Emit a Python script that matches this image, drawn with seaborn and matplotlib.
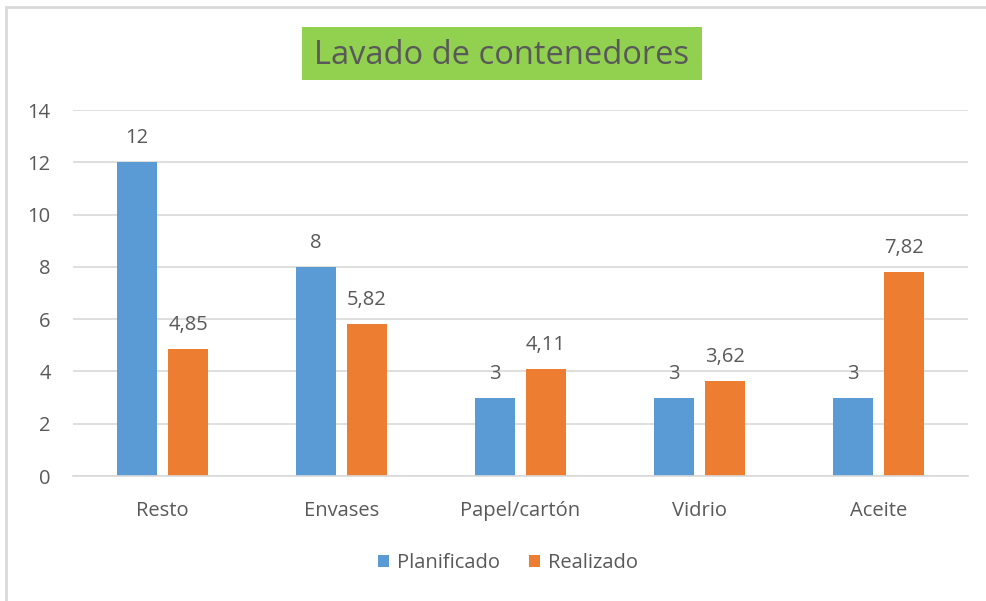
import matplotlib
matplotlib.use("Agg")
import matplotlib.pyplot as plt
import seaborn as sns
import pandas as pd
from matplotlib.patches import Rectangle

categories = ["Resto", "Envases", "Papel/cartón", "Vidrio", "Aceite"]
planificado = [12, 8, 3, 3, 3]
realizado = [4.85, 5.82, 4.11, 3.62, 7.82]
series_names = ["Planificado", "Realizado"]
yticks = [0, 2, 4, 6, 8, 10, 12, 14]
title = "Lavado de contenedores"

colors = ["#5B9BD5", "#ED7D31"]
txt = "#595959"
grid = "#D9D9D9"
font = ["Open Sans", "DejaVu Sans"]
fs = 14.5

df = pd.DataFrame({
    "cat": categories * 2,
    "val": planificado + realizado,
    "serie": [series_names[0]] * len(categories) + [series_names[1]] * len(categories),
})

sns.set_theme(style="white")
plt.rcParams["font.family"] = font

fig = plt.figure(figsize=(9.87, 6.01), dpi=100)
ax = fig.add_axes([73 / 987, 1 - 476 / 601, (968 - 73) / 987, (476 - 110) / 601])

sns.barplot(data=df, x="cat", y="val", hue="serie", palette=colors, width=0.57, gap=0.216,
            ax=ax, saturation=1, legend=True, linewidth=0)

ax.set_ylim(0, 14)
ax.set_xlim(-0.5, 4.5)
ax.set_yticks(yticks)
ax.set_yticklabels([str(t) for t in yticks])
ax.set_xlabel("")
ax.set_ylabel("")
ax.yaxis.grid(True, color=grid, linewidth=1.2)
ax.set_axisbelow(True)
for s in ["top", "right", "left"]:
    ax.spines[s].set_visible(False)
ax.spines["bottom"].set_color(grid)
ax.spines["bottom"].set_linewidth(1.2)
ax.tick_params(axis="both", length=0, colors=txt, labelsize=fs)
ax.tick_params(axis="x", pad=18)
ax.tick_params(axis="y", pad=16)

def fmt(v):
    s = f"{v:g}"
    return s.replace(".", ",")

for cont, vals in zip(ax.containers, [planificado, realizado]):
    ax.bar_label(cont, labels=[fmt(v) for v in vals], padding=10, color=txt, fontsize=fs)

leg = ax.legend(loc="center", bbox_to_anchor=(508 / 987, 1 - 563 / 601),
                bbox_transform=fig.transFigure, ncol=2, frameon=False, fontsize=fs,
                handlelength=0.55, handleheight=0.55, handletextpad=0.4, columnspacing=1.4)
for t in leg.get_texts():
    t.set_color(txt)

fig.patches.append(Rectangle((302 / 987, 1 - 80 / 601), 400 / 987, 53 / 601, transform=fig.transFigure,
                             facecolor="#92D050", edgecolor="none", figure=fig))
fig.text(502 / 987, 1 - 55 / 601, title, ha="center", va="center", fontsize=23.5, color=txt)

fig.patches.append(Rectangle((6 / 987, -0.1), 1.2, 1 - 7 / 601 + 0.1, transform=fig.transFigure,
                             fill=False, edgecolor=grid, linewidth=2, figure=fig))

fig.savefig("out.png", dpi=100)
